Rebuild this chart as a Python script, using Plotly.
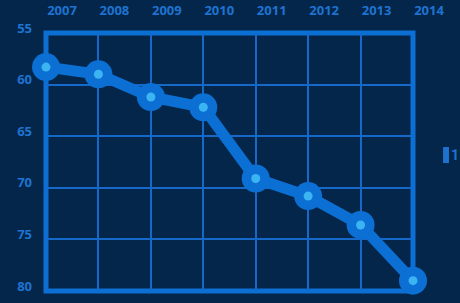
import plotly.graph_objects as go

years = [2007, 2008, 2009, 2010, 2011, 2012, 2013, 2014]
values = [58.3, 59.0, 61.2, 62.2, 69.1, 70.8, 73.6, 79.0]
y_ticks = [55, 60, 65, 70, 75, 80]
legend_label = "1"

BG = "#04264a"
LINE = "#0b6fd3"
GRID = "#1669c9"
DOT = "#3cb4f2"
TXT = "#1f73d0"

fig = go.Figure()
fig.add_trace(go.Scatter(
    x=years, y=values, mode="lines+markers",
    line=dict(color=LINE, width=11),
    marker=dict(size=28, color=LINE),
    cliponaxis=False, showlegend=False, hoverinfo="skip"))
fig.add_trace(go.Scatter(
    x=years, y=values, mode="markers",
    marker=dict(size=9, color=DOT),
    cliponaxis=False, showlegend=False, hoverinfo="skip"))

fig.add_shape(type="rect", xref="paper", yref="paper", x0=0, x1=1, y0=0, y1=1,
              line=dict(color=LINE, width=5), layer="between")
fig.add_shape(type="rect", xref="paper", yref="paper", x0=1.082, x1=1.098, y0=0.496, y1=0.558,
              line=dict(width=0), fillcolor=TXT)
fig.add_annotation(x=1.097, y=0.527, xref="paper", yref="paper", text="<b>" + legend_label + "</b>",
                   showarrow=False, xanchor="left", yanchor="middle",
                   font=dict(color=TXT, size=14, family="Liberation Sans Narrow, Roboto"))

fig.update_layout(
    width=460, height=303,
    margin=dict(l=46, r=47, t=33, b=12),
    paper_bgcolor=BG, plot_bgcolor=BG,
    font=dict(family="Open Sans", color=TXT, size=12, weight="bold"),
    xaxis=dict(range=[2007, 2014], tickvals=years, ticktext=[str(y) for y in years],
               side="top", showgrid=True, gridcolor=GRID, gridwidth=2, zeroline=False,
               showline=False, ticklabelshift=16, ticklabelstandoff=14, automargin=False,
               tickfont=dict(size=13, color=TXT, weight="bold")),
    yaxis=dict(range=[80, 55], tickvals=y_ticks, showgrid=True, gridcolor=GRID, gridwidth=2,
               zeroline=False, showline=False, ticklabelshift=5, ticklabelstandoff=13,
               automargin=False,
               tickfont=dict(size=13, color=TXT, weight="bold")),
)
fig.write_html("out.html")
